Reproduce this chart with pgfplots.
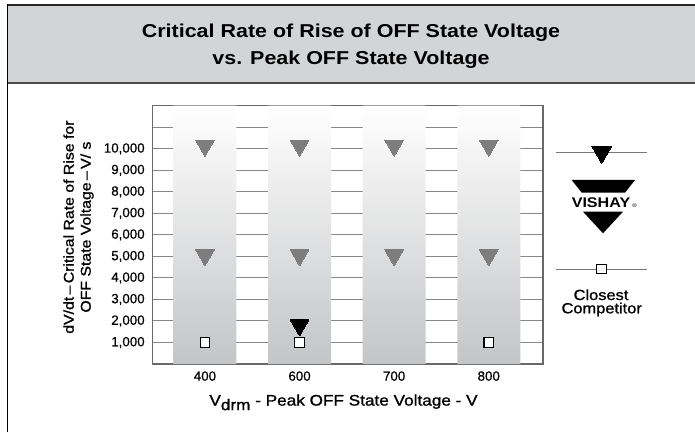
\documentclass[border=0pt]{standalone}
\usepackage{fontspec}
\setmainfont{Liberation Sans}[FakeStretch=1.15]
\newfontfamily\medfont{Liberation Sans}[FakeStretch=1.12, FakeBold=1.2]
\newfontfamily\tickfont{Liberation Sans}[FakeBold=0.6]
\usepackage{pgfplots}
\pgfplotsset{compat=1.18}
\definecolor{titlebg}{RGB}{211,212,214}
\definecolor{bandbot}{RGB}{196,197,199}
\definecolor{tri}{RGB}{125,125,125}
\definecolor{gridc}{RGB}{135,135,135}
\definecolor{boxc}{RGB}{105,105,105}
\definecolor{legc}{RGB}{120,120,120}

\begin{document}
\begin{tikzpicture}
\begin{scope}[x=0.75pt,y=0.75pt]
\useasboundingbox (0,0) rectangle (695,432);
% title band and frame
\fill[titlebg] (7,348.7) rectangle (695,427);
\draw[black!85, line width=1.3pt] (7,427) -- (695,427);
\draw[black!70, line width=1.5pt] (7,348.7) -- (695,348.7);
\draw[black, line width=1.2pt] (7.5,0) -- (7.5,427.5);
\node[anchor=base, font=\fontsize{14}{16}\selectfont\bfseries] at (351,394.3) {Critical Rate of Rise of OFF State Voltage};
\node[anchor=base, font=\fontsize{14}{16}\selectfont\bfseries] at (351,367.7) {vs. Peak OFF State Voltage};
\end{scope}

\begin{axis}[
  at={(114.525pt,51pt)}, anchor=south west,
  scale only axis, width=292.7pt, height=193.7pt,
  xmin=-0.5525, xmax=3.573, ymin=0, ymax=12000,
  xtick={0,1,2,3}, xticklabels={400,600,700,800},
  ytick={1000,2000,...,11000},
  scaled y ticks=false,
  yticklabels={{1,000},{2,000},{3,000},{4,000},{5,000},{6,000},{7,000},{8,000},{9,000},{10,000},{}},
  ymajorgrids, grid style={gridc, line width=0.75pt},
  major tick length=0pt,
  axis line style={boxc, line width=0.9pt},
  tick label style={font=\tickfont\fontsize{10}{12}\selectfont},
  yticklabel style={xshift=-2.5pt},
  xticklabel style={yshift=-2pt},
  xlabel={V\raisebox{-3.4pt}{drm} - Peak OFF State Voltage - V},
  xlabel style={at={(axis description cs:0.489,-0.161)}, anchor=base, font=\medfont\fontsize{11.5}{13}\selectfont},
  ylabel={dV/dt\,–\,Critical Rate of Rise for\\OFF State Voltage\,–\,V/ s},
  ylabel style={at={(axis description cs:-0.19,0.53)}, anchor=center, align=center, font=\medfont\fontsize{10.6}{12.75}\selectfont},
  clip=false,
]
% shaded bands
\addplot[ybar, bar width=0.666, draw=none, top color=white, bottom color=bandbot] coordinates {(0,12000) (1,12000) (2,12000) (3,12000)};
% gray triangles
\addplot[only marks, mark=triangle*, mark size=8pt, mark options={rotate=180, draw=tri, fill=tri, line width=0pt}] coordinates {(0,10150) (1,10150) (2,10150) (3,10150) (0,5060) (1,5060) (2,5060) (3,5060)};
% black triangle
\addplot[only marks, mark=triangle*, mark size=8pt, mark options={rotate=180, draw=black, fill=black, line width=0pt}] coordinates {(1,1800)};
% competitor squares
\addplot[only marks, mark=square*, mark size=3.6pt, mark options={draw=black, fill=white, line width=0.8pt}] coordinates {(0,1000) (1,1000) (3,1000)};
% legend
\addplot[legc, line width=0.75pt] coordinates {(3.715,9849) (4.676,9849)};
\addplot[only marks, mark=triangle*, mark size=8.5pt, mark options={rotate=180, draw=black, fill=black, line width=0pt}] coordinates {(4.194,9849)};
\addplot[legc, line width=0.75pt] coordinates {(3.715,4413) (4.676,4413)};
\addplot[only marks, mark=square*, mark size=3.6pt, mark options={draw=black, fill=white, line width=0.8pt}] coordinates {(4.194,4413)};
\end{axis}

\begin{scope}[x=0.75pt,y=0.75pt]
% VISHAY logo
\fill[black] (571.7,252) -- (635,252) -- (625,239.3) -- (581.7,239.3) -- cycle;
\node[anchor=base, inner sep=0pt, font=\bfseries\fontsize{10.5}{12}\selectfont] at (601,224.7) {VISHAY};
\node[inner sep=0pt, font=\fontsize{4}{5}\selectfont] at (634.5,226.5) {®};
\fill[black] (583,220.3) -- (623,220.3) -- (603,198.7) -- cycle;
\node[anchor=base, inner sep=0pt, font=\medfont\fontsize{11}{13}\selectfont] at (601,132) {Closest};
\node[anchor=base, inner sep=0pt, font=\medfont\fontsize{11}{13}\selectfont] at (601.7,118.7) {Competitor};
\end{scope}
\end{tikzpicture}
\end{document}
